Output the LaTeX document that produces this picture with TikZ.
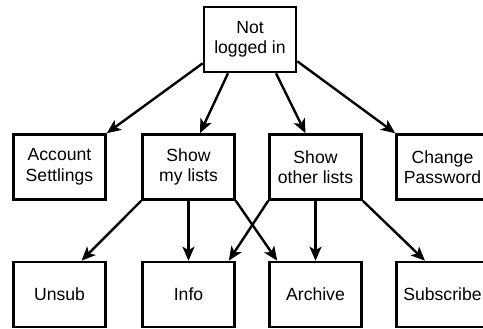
\documentclass[tikz,border=0pt]{standalone}
\usepackage{fontspec}
\setmainfont{Liberation Sans}
\usetikzlibrary{arrows.meta}
\begin{document}
\begin{tikzpicture}[x=1pt,y=1pt,
  box/.style={draw, line width=2.6pt, minimum width=92pt, minimum height=65pt, align=center, inner sep=0pt,
    font=\fontsize{17.6}{20.5}\selectfont},
  arr/.style={line width=2.4pt, -{Stealth[length=14pt,width=12pt,inset=3.5pt]}}]
\useasboundingbox (0,0) rectangle (483,-329);
\node[box] (top) at (250,-39.5) {Not\\logged in};
\node[box] (acct) at (59.5,-167) {Account\\Settlings};
\node[box] (mine) at (188.5,-167) {Show\\my lists};
\node[box] (other) at (315.5,-167) {Show\\other lists};
\node[box] (chpw) at (442.5,-167) {Change\\Password};
\node[box] (unsub) at (59.5,-294.5) {Unsub};
\node[box] (info) at (188.5,-294.5) {Info};
\node[box] (arch) at (315.5,-294.5) {Archive};
\node[box] (subs) at (442.5,-294.5) {Subscribe};
\draw[arr] ([yshift=10pt]top.south west) -- (acct.north east);
\draw[arr] ([xshift=-22pt]top.south) -- ([xshift=11.5pt]mine.north);
\draw[arr] ([xshift=26pt]top.south) -- ([xshift=-10pt]other.north);
\draw[arr] ([yshift=12pt]top.south east) -- (chpw.north west);
\draw[arr] (mine.south west) -- ([xshift=22pt]unsub.north);
\draw[arr] (mine.south) -- (info.north);
\draw[arr] (mine.south east) -- ([xshift=9pt]arch.north west);
\draw[arr] (other.south west) -- ([xshift=-7pt]info.north east);
\draw[arr] (other.south) -- (arch.north);
\draw[arr] (other.south east) -- ([xshift=-17.5pt]subs.north);
\end{tikzpicture}
\end{document}
